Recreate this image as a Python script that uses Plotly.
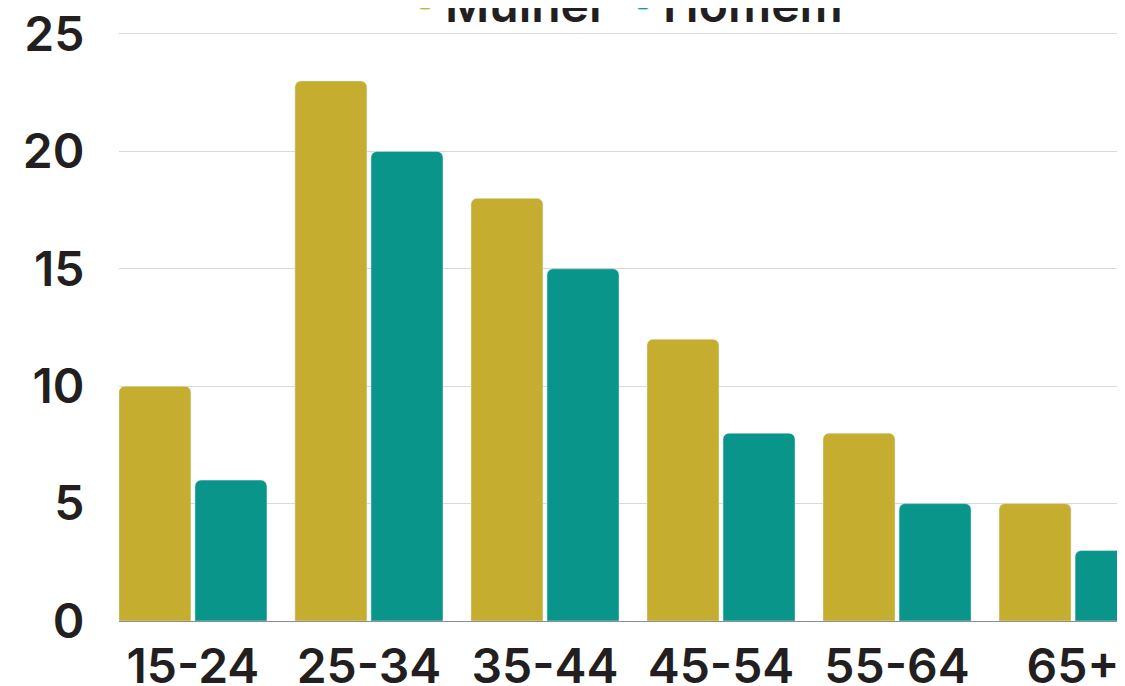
import plotly.graph_objects as go

categories = ["15-24", "25-34", "35-44", "45-54", "55-64", "65+"]
mulher = [10, 23, 18, 12, 8, 5]
homem = [6, 20, 15, 8, 5, 3]
y_ticks = [0, 5, 10, 15, 20, 25]

GOLD = "#C5AD30"
TEAL = "#0A958A"
TXT = "#231F20"
FONT = "Inter"
FS = 48

fig = go.Figure()
fig.add_trace(go.Bar(name="Mulher", x=categories, y=mulher, marker=dict(color=GOLD, cornerradius=6)))
fig.add_trace(go.Bar(name="Homem", x=categories, y=homem, marker=dict(color=TEAL, cornerradius=6)))

fig.update_layout(
    width=1117, height=678,
    margin=dict(l=111, r=0, t=0, b=65, autoexpand=False),
    paper_bgcolor="white", plot_bgcolor="white",
    barmode="group", bargap=0.136, bargroupgap=0.053,
    font=dict(family=FONT, size=FS, color=TXT, weight=600),
    showlegend=True,
    legend=dict(orientation="h", x=0.2843, xanchor="left", y=1.069, yanchor="top",
                entrywidth=173, entrywidthmode="pixels",
                font=dict(family=FONT, size=FS, color=TXT, weight=600),
                bgcolor="rgba(0,0,0,0)"),
)
fig.update_xaxes(
    type="category", range=[-0.42, 5.295], automargin=False,
    showline=True, linecolor="#8C8C8C", linewidth=1, showgrid=False,
    ticks="outside", ticklen=3, tickcolor="rgba(0,0,0,0)",
    ticklabeloverflow="allow",
    tickfont=dict(family=FONT, size=FS, color=TXT, weight=600),
)
fig.update_yaxes(
    range=[0, 26.107], tickvals=y_ticks, automargin=False,
    showgrid=True, gridcolor="#D9D9D9", gridwidth=1, zeroline=False,
    ticks="outside", ticklen=24, tickcolor="rgba(0,0,0,0)",
    ticklabeloverflow="allow",
    tickfont=dict(family=FONT, size=FS, color=TXT, weight=600),
)

fig.write_html("out.html")
